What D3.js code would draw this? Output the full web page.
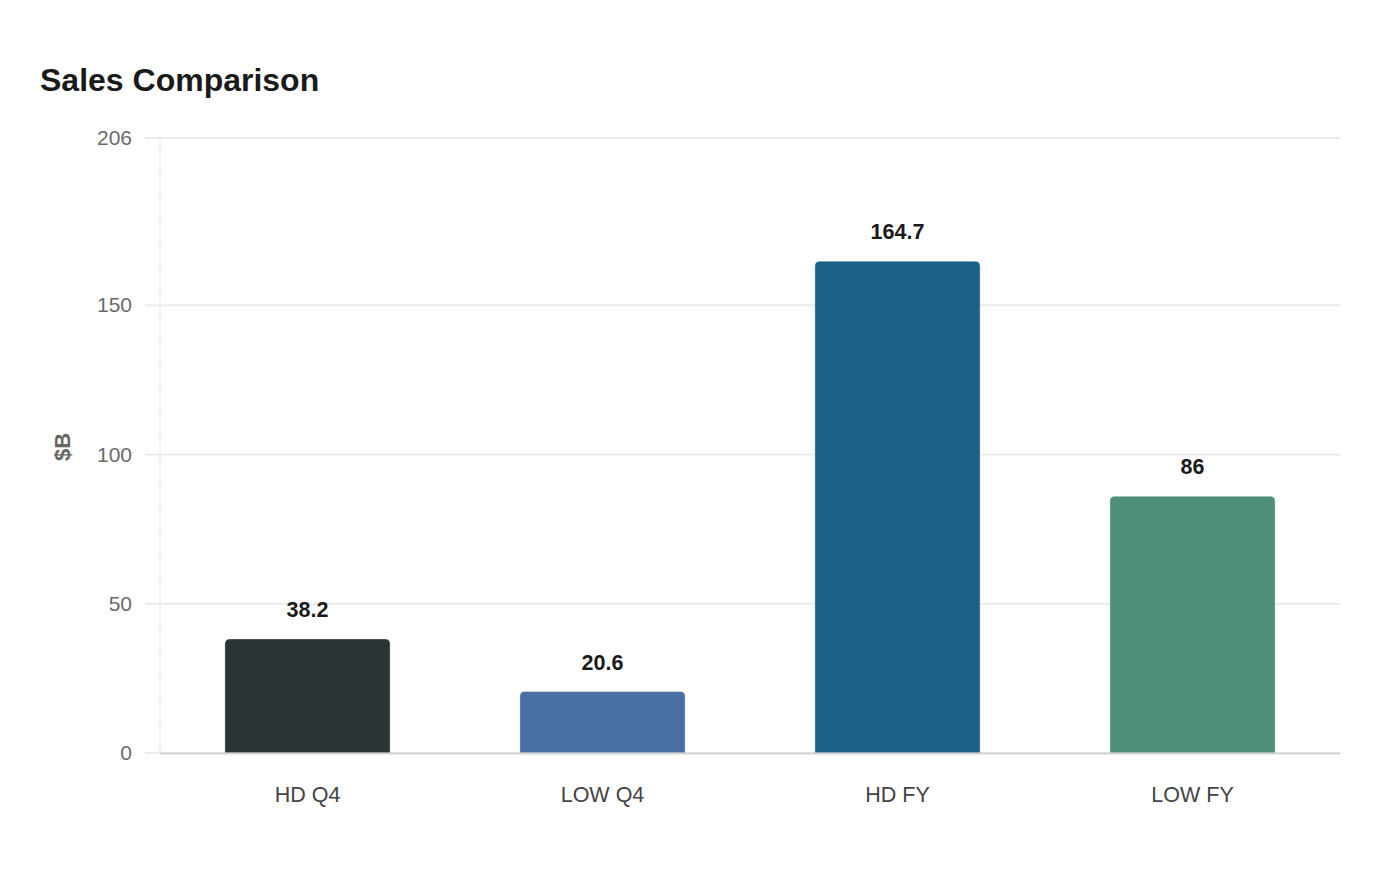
<!DOCTYPE html>
<html>
<head>
<meta charset="utf-8">
<script src="https://cdn.jsdelivr.net/npm/d3@7"></script>
<style>
  html, body { margin: 0; padding: 0; background: #ffffff; }
  svg { display: block; font-family: "Liberation Sans", Arial, Helvetica, sans-serif; }
</style>
</head>
<body>
<svg id="chart" width="1400" height="880"></svg>
<script>
const categories = ["HD Q4", "LOW Q4", "HD FY", "LOW FY"];
const values = [38.2, 20.6, 164.7, 86];
const colors = ["#2d3436", "#4a6fa5", "#1a6187", "#4e8e7b"];
const yTicks = [0, 50, 100, 150, 206];
const yMax = 206;
const title = "Sales Comparison";
const yLabel = "$B";

const svg = d3.select("#chart");
const margin = { left: 160, right: 60, top: 138, bottom: 127 };
const W = 1400, H = 880;
const x0 = margin.left, x1 = W - margin.right;
const y0 = H - margin.bottom, y1 = margin.top;

const x = d3.scaleBand().domain(categories).range([x0, x1]).paddingInner(0.44).paddingOuter(0.22);
const y = d3.scaleLinear().domain([0, yMax]).range([y0, y1]);

svg.append("text").attr("x", 40).attr("y", 91)
  .attr("font-size", 32).attr("font-weight", "bold").attr("fill", "#1a1a1a")
  .text(title);

// gridlines
svg.append("g").selectAll("line").data(yTicks).join("line")
  .attr("x1", 145).attr("x2", x1)
  .attr("y1", d => y(d)).attr("y2", d => y(d))
  .attr("stroke", "#ebebeb").attr("stroke-width", 2);

// y axis line (dotted)
svg.append("line").attr("x1", x0).attr("x2", x0).attr("y1", y1).attr("y2", y0)
  .attr("stroke", "#dcdcdc").attr("stroke-width", 1).attr("stroke-dasharray", "2,1");

// y tick labels
const yAxis = d3.axisLeft(y).tickValues(yTicks).tickSize(0).tickPadding(28).tickFormat(d3.format("d"));
const ya = svg.append("g").attr("transform", `translate(${x0},0)`).call(yAxis);
ya.select(".domain").remove();
ya.selectAll("text").attr("font-size", 21).attr("fill", "#6b6b6b").attr("font-family", "Liberation Sans, Arial, sans-serif");

// y label
svg.append("text").attr("transform", `translate(70,447) rotate(-90)`)
  .attr("text-anchor", "middle").attr("font-size", 22).attr("font-weight", "bold")
  .attr("fill", "#666666").text(yLabel);

// bars with rounded top corners
const r = 5;
function barPath(xp, w, yt, yb) {
  const rr = Math.min(r, (yb - yt));
  return `M${xp},${yb} L${xp},${yt + rr} Q${xp},${yt} ${xp + rr},${yt} L${xp + w - rr},${yt} Q${xp + w},${yt} ${xp + w},${yt + rr} L${xp + w},${yb} Z`;
}
svg.append("g").selectAll("path").data(categories).join("path")
  .attr("d", (c, i) => barPath(x(c), x.bandwidth(), y(values[i]), y(0)))
  .attr("fill", (c, i) => colors[i])
  .attr("stroke", "#ffffff").attr("stroke-opacity", 0.35).attr("stroke-width", 1);

// value labels
svg.append("g").selectAll("text").data(categories).join("text")
  .attr("x", c => x(c) + x.bandwidth() / 2)
  .attr("y", (c, i) => y(values[i]) - 22)
  .attr("text-anchor", "middle").attr("font-size", 21.5).attr("font-weight", "bold")
  .attr("fill", "#1a1a1a")
  .text((c, i) => values[i]);

// x axis
const xAxis = d3.axisBottom(x).tickSize(0).tickPadding(34);
const xa = svg.append("g").attr("transform", `translate(0,${y0})`).call(xAxis);
xa.select(".domain").attr("stroke", "#d4d4d4").attr("stroke-width", 2);
xa.selectAll("text").attr("font-size", 21.5).attr("fill", "#444444").attr("font-family", "Liberation Sans, Arial, sans-serif");
</script>
</body>
</html>
